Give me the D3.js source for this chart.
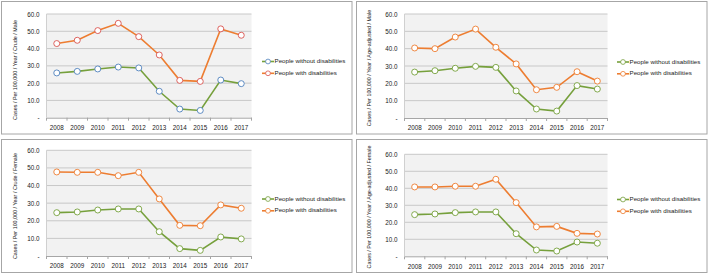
<!DOCTYPE html>
<html><head><meta charset="utf-8">
<script src="https://cdn.jsdelivr.net/npm/d3@7"></script>
<style>
body{margin:0;background:#fff;}
svg{display:block;font-family:"Liberation Sans",Arial,sans-serif;}
</style></head>
<body><svg id="chart" width="708" height="274"></svg>
<script>
const years = ["2008","2009","2010","2011","2012","2013","2014","2015","2016","2017"];
const seriesNames = ["People without disabilities","People with disabilities"];
const yTickValues = [0,10,20,30,40,50,60];
const yTickLabels = ["-","10.0","20.0","30.0","40.0","50.0","60.0"];
const axisTitles = [
  "Cases / Per 100,000 / Year / Crude / Male",
  "Cases / Per 100,000 / Year / Age-adjusted / Male",
  "Cases / Per 100,000 / Year / Crude / Female",
  "Cases / Per 100,000 / Year / Age-adjusted / Female"
];
const crudeMaleWithout = [25.9,26.8,28.2,29.3,28.8,15.3,5.0,4.2,21.8,19.7];
const crudeMaleWith    = [42.9,44.8,50.4,54.6,46.9,36.3,21.6,21.0,51.4,47.7];
const adjMaleWithout   = [26.5,27.3,28.7,29.8,29.2,15.6,5.2,4.0,18.7,16.7];
const adjMaleWith      = [40.4,40.0,46.7,51.3,40.8,31.2,16.3,17.7,26.7,21.3];
const crudeFemWithout  = [24.6,25.0,26.1,26.7,26.7,13.8,4.2,3.2,10.8,9.7];
const crudeFemWith     = [47.7,47.5,47.5,45.6,47.5,32.4,17.4,17.2,29.0,27.1];
const adjFemWithout    = [24.5,24.9,25.7,26.1,26.1,13.3,3.7,3.1,8.4,7.7];
const adjFemWith       = [40.8,40.8,41.2,41.2,45.3,31.6,17.3,17.6,13.5,13.1];

const panelData = [
  [crudeMaleWithout, crudeMaleWith],
  [adjMaleWithout, adjMaleWith],
  [crudeFemWithout, crudeFemWith],
  [adjFemWithout, adjFemWith]
];

// layout (positions only)
const layouts = [
  {bx:1.5,by:1.5,bw:350.5,bh:132.5, pl:46.5,pr:251.5,pt:14,pb:117.7, tx:15.5,ty:70, lx:262,ly:61.5},
  {bx:356.5,by:1.5,bw:350.5,bh:132.5, pl:404.5,pr:607.5,pt:14,pb:118, tx:369.5,ty:68, lx:617,ly:62},
  {bx:1.5,by:139.5,bw:350.5,bh:133, pl:46.5,pr:251.5,pt:150.3,pb:256, tx:15.5,ty:206, lx:262,ly:199},
  {bx:356.5,by:139.5,bw:350.5,bh:133, pl:404.5,pr:607.5,pt:154.3,pb:256.3, tx:369.5,ty:207, lx:617,ly:199.5}
];
const lineColors = ["#76A03C","#ED7D31"];
const markerColors = [["#4F81BD","#D9534F"],["#76A03C","#ED7D31"],["#76A03C","#ED7D31"],["#76A03C","#ED7D31"]];

const svg = d3.select("#chart");

layouts.forEach((L,i)=>{
  const g = svg.append("g");
  g.append("rect").attr("x",L.bx).attr("y",L.by).attr("width",L.bw).attr("height",L.bh)
    .attr("fill","#fff").attr("stroke","#a6a6a6").attr("stroke-width",1);
  const x = d3.scaleBand().domain(years).range([L.pl,L.pr]);
  const y = d3.scaleLinear().domain([0,60]).range([L.pb,L.pt]);
  g.append("rect").attr("x",L.pl).attr("y",L.pt).attr("width",L.pr-L.pl).attr("height",L.pb-L.pt).attr("fill","#F2F2F2");
  g.selectAll(".grid").data(yTickValues.filter(v=>v>0)).join("line")
    .attr("x1",L.pl).attr("x2",L.pr).attr("y1",d=>y(d)).attr("y2",d=>y(d))
    .attr("stroke","#C8C8C8").attr("stroke-width",1);
  const ya = d3.axisLeft(y).tickValues(yTickValues).tickFormat((d,j)=>yTickLabels[j]).tickSize(0).tickPadding(7);
  const yg = g.append("g").attr("transform",`translate(${L.pl},0)`).call(ya);
  yg.select(".domain").remove();
  yg.selectAll("text").attr("font-size",6.3).attr("fill","#222").attr("font-family","Liberation Sans, Arial, sans-serif");
  const xa = d3.axisBottom(x).tickSize(0).tickPadding(8);
  const xg = g.append("g").attr("transform",`translate(0,${L.pb})`).call(xa);
  xg.select(".domain").attr("stroke","#A6A6A6");
  xg.selectAll("text").attr("font-size",6.3).attr("fill","#222").attr("font-family","Liberation Sans, Arial, sans-serif");
  const bounds = years.map(yr=>x(yr)).concat([L.pr]);
  g.selectAll(".xt").data(bounds).join("line")
    .attr("x1",d=>d).attr("x2",d=>d).attr("y1",L.pb).attr("y2",L.pb+3)
    .attr("stroke","#A6A6A6");
  g.append("line").attr("x1",L.pl).attr("x2",L.pl).attr("y1",L.pt).attr("y2",L.pb).attr("stroke","#D0D0D0");
  g.append("text").attr("transform",`translate(${L.tx},${L.ty}) rotate(-90)`)
    .attr("text-anchor","middle").attr("dominant-baseline","middle")
    .attr("font-size",5.4).attr("fill","#222").text(axisTitles[i]);
  const line = d3.line().x((d,j)=>x(years[j])+x.bandwidth()/2).y(d=>y(d));
  panelData[i].forEach((vals,s)=>{
    g.append("path").datum(vals).attr("d",line).attr("fill","none")
      .attr("stroke",lineColors[s]).attr("stroke-width",1.6);
  });
  panelData[i].forEach((vals,s)=>{
    g.selectAll(".m"+s).data(vals).join("circle")
      .attr("cx",(d,j)=>x(years[j])+x.bandwidth()/2).attr("cy",d=>y(d)).attr("r",3)
      .attr("fill","#fff").attr("stroke",markerColors[i][s]).attr("stroke-width",0.9);
  });
  seriesNames.forEach((nm,s)=>{
    const ly = L.ly + s*11.8;
    g.append("line").attr("x1",L.lx).attr("x2",L.lx+12).attr("y1",ly).attr("y2",ly)
      .attr("stroke",lineColors[s]).attr("stroke-width",1.6);
    g.append("circle").attr("cx",L.lx+6).attr("cy",ly).attr("r",2.4)
      .attr("fill","#fff").attr("stroke",markerColors[i][s]).attr("stroke-width",0.8);
    g.append("text").attr("x",L.lx+12.5).attr("y",ly).attr("dominant-baseline","middle")
      .attr("font-size",6.2).attr("fill","#222").text(nm);
  });
});
</script></body></html>
